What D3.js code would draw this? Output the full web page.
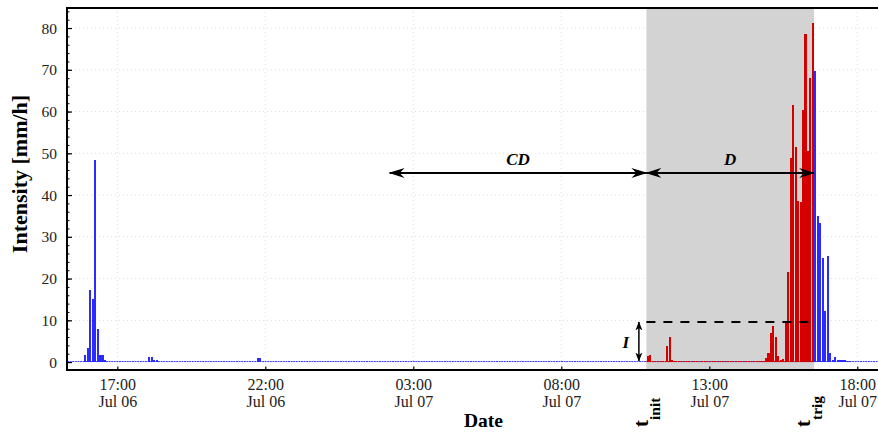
<!DOCTYPE html>
<html>
<head>
<meta charset="utf-8">
<script src="https://cdn.jsdelivr.net/npm/d3@7"></script>
<style>
  body { margin: 0; background: #fff; overflow: hidden; }
  svg { display: block; }
  text { font-family: "Liberation Serif", "Times New Roman", serif; }
</style>
</head>
<body>
<svg id="chart" width="878" height="434"></svg>
<script>
// 5-minute rainfall intensity [mm/h], bars outside the triggering window
const outsideTimes = [
  "2021-07-06 15:55", "2021-07-06 16:00", "2021-07-06 16:05", "2021-07-06 16:10",
  "2021-07-06 16:15", "2021-07-06 16:20", "2021-07-06 16:25", "2021-07-06 16:30",
  "2021-07-06 16:35",
  "2021-07-06 18:05", "2021-07-06 18:10", "2021-07-06 18:15", "2021-07-06 18:20",
  "2021-07-06 21:45", "2021-07-06 21:50",
  "2021-07-07 16:35", "2021-07-07 16:40", "2021-07-07 16:45", "2021-07-07 16:50",
  "2021-07-07 16:55", "2021-07-07 17:00", "2021-07-07 17:05", "2021-07-07 17:10",
  "2021-07-07 17:15", "2021-07-07 17:20", "2021-07-07 17:25", "2021-07-07 17:30",
  "2021-07-07 17:35", "2021-07-07 17:40", "2021-07-07 17:45"
];
const outsideValues = [
  1.7, 3.4, 17.2, 15.1,
  48.4, 7.9, 1.7, 1.7,
  0.5,
  1.3, 1.3, 0.6, 0.6,
  1.0, 1.0,
  69.7, 35.0, 33.4, 24.9,
  12.2, 25.4, 2.2, 0.5,
  1.2, 0.5, 0.5, 0.5,
  0.5, 0.3, 0.3
];

// bars inside the window from t_init to t_trig
const windowTimes = [
  "2021-07-07 10:55", "2021-07-07 11:00",
  "2021-07-07 11:35", "2021-07-07 11:40", "2021-07-07 11:45", "2021-07-07 11:50",
  "2021-07-07 14:45", "2021-07-07 14:50", "2021-07-07 14:55", "2021-07-07 15:00",
  "2021-07-07 15:05", "2021-07-07 15:10", "2021-07-07 15:15", "2021-07-07 15:20",
  "2021-07-07 15:25", "2021-07-07 15:30", "2021-07-07 15:35", "2021-07-07 15:40",
  "2021-07-07 15:45", "2021-07-07 15:50", "2021-07-07 15:55", "2021-07-07 16:00",
  "2021-07-07 16:05", "2021-07-07 16:10", "2021-07-07 16:15", "2021-07-07 16:20",
  "2021-07-07 16:25", "2021-07-07 16:30"
];
const windowValues = [
  1.4, 1.7,
  3.8, 6.0, 0.5, 0.3,
  0.2, 0.3, 1.0, 2.2,
  6.9, 8.6, 6.0, 1.4,
  0.5, 0.7, 9.3, 21.5,
  48.9, 61.6, 51.5, 38.6,
  38.3, 60.4, 78.6, 50.5,
  68.0, 81.2
];

const xTickTimes = [
  "2021-07-06 17:00", "2021-07-06 22:00", "2021-07-07 03:00",
  "2021-07-07 08:00", "2021-07-07 13:00", "2021-07-07 18:00"
];
const yTickValues = [0, 10, 20, 30, 40, 50, 60, 70, 80];
const xExtentTimes = ["2021-07-06 15:18", "2021-07-07 18:42"];
const yExtent = [-1.9, 84.8];

const tInit = "2021-07-07 10:55";
const tTrig = "2021-07-07 16:30";
const cdStart = "2021-07-07 02:12";
const thresholdI = 9.6;
const arrowLevel = 45.3;
const binMinutes = 5;

// ---- layout ----
const parse = d3.timeParse("%Y-%m-%d %H:%M");
const L = 67, R = 878, T = 8, B = 370;
const svg = d3.select("#chart");

const x = d3.scaleTime().domain(xExtentTimes.map(parse)).range([L, R]);
const y = d3.scaleLinear().domain(yExtent).range([B, T]);

const halfBin = binMinutes / 2 * 60000;
const shadeStart = new Date(+parse(tInit) - halfBin);
const shadeEnd = new Date(+parse(tTrig) + halfBin);
const binPx = x(new Date(+parse(tInit) + binMinutes * 60000)) - x(parse(tInit));
const barW = binPx * 0.85;

const defs = svg.append("defs");
defs.append("clipPath").attr("id", "plotClip")
  .append("rect").attr("x", L).attr("y", T).attr("width", 900 - L).attr("height", B - T);
defs.append("marker").attr("id", "bigHead")
  .attr("viewBox", "0 -6 16 12").attr("refX", 15).attr("refY", 0)
  .attr("markerUnits", "userSpaceOnUse").attr("markerWidth", 16).attr("markerHeight", 12)
  .attr("orient", "auto-start-reverse")
  .append("path").attr("d", "M0,-5 L16,0 L0,5 L5,0 Z").attr("fill", "#000");
defs.append("marker").attr("id", "smallHead")
  .attr("viewBox", "0 -4 9 8").attr("refX", 8.5).attr("refY", 0)
  .attr("markerUnits", "userSpaceOnUse").attr("markerWidth", 9).attr("markerHeight", 8)
  .attr("orient", "auto-start-reverse")
  .append("path").attr("d", "M0,-3.5 L9,0 L0,3.5 L2.5,0 Z").attr("fill", "#000");

const plot = svg.append("g").attr("clip-path", "url(#plotClip)");

// dotted grid
plot.append("g").selectAll("line").data(yTickValues.slice(1)).join("line")
  .attr("x1", L).attr("x2", 900).attr("y1", d => y(d)).attr("y2", d => y(d))
  .attr("stroke", "#dcdcdc").attr("stroke-width", 1).attr("stroke-dasharray", "1,3");
plot.append("g").selectAll("line").data(xTickTimes).join("line")
  .attr("x1", d => x(parse(d))).attr("x2", d => x(parse(d)))
  .attr("y1", T).attr("y2", B)
  .attr("stroke", "#dcdcdc").attr("stroke-width", 1).attr("stroke-dasharray", "1,3");

// triggering window
plot.append("rect")
  .attr("x", x(shadeStart)).attr("y", T)
  .attr("width", x(shadeEnd) - x(shadeStart)).attr("height", B - T)
  .attr("fill", "#d3d3d3");

// zero-intensity baseline
plot.append("line")
  .attr("x1", L).attr("x2", 900).attr("y1", y(0) - 0.5).attr("y2", y(0) - 0.5)
  .attr("stroke", "#3a3aff").attr("stroke-width", 1).attr("stroke-dasharray", "2,0.6");
plot.append("line")
  .attr("x1", x(shadeStart)).attr("x2", x(shadeEnd)).attr("y1", y(0) - 0.5).attr("y2", y(0) - 0.5)
  .attr("stroke", "#d00000").attr("stroke-width", 1).attr("stroke-dasharray", "2,0.6");

// bars
function drawBars(times, values, color) {
  const data = times.map((t, i) => ({ t: parse(t), v: values[i] }));
  plot.append("g").attr("shape-rendering", "crispEdges")
    .selectAll("rect").data(data).join("rect")
    .attr("x", d => x(d.t) - barW / 2)
    .attr("width", barW)
    .attr("y", d => y(d.v))
    .attr("height", d => y(0) - y(d.v))
    .attr("fill", color);
}
drawBars(outsideTimes, outsideValues, "#2b2bff");
drawBars(windowTimes, windowValues, "#d40000");

// intensity threshold I
plot.append("line")
  .attr("x1", x(shadeStart)).attr("x2", x(shadeEnd))
  .attr("y1", y(thresholdI)).attr("y2", y(thresholdI))
  .attr("stroke", "#000").attr("stroke-width", 2).attr("stroke-dasharray", "9,8");

// frame
svg.append("rect")
  .attr("x", L).attr("y", T).attr("width", 900 - L).attr("height", B - T)
  .attr("fill", "none").attr("stroke", "#000").attr("stroke-width", 2);

// y axis: major and minor inward ticks
const yMinor = d3.range(0, 85, 2);
svg.append("g").attr("transform", `translate(${L},0)`)
  .call(d3.axisLeft(y).tickValues(yMinor).tickSize(-2.5).tickFormat(""))
  .call(g => g.select(".domain").remove())
  .call(g => g.selectAll("line").attr("stroke", "#000"));
const yAxis = svg.append("g").attr("transform", `translate(${L},0)`)
  .call(d3.axisLeft(y).tickValues(yTickValues).tickSize(-5).tickPadding(10));
yAxis.select(".domain").remove();
yAxis.selectAll("line").attr("stroke", "#000").attr("stroke-width", 1.2);
yAxis.selectAll("text").attr("font-size", 15.5).attr("fill", "#222")
  .attr("font-family", "Liberation Serif, serif");

// x axis
const xAxis = svg.append("g").attr("transform", `translate(0,${B})`)
  .call(d3.axisBottom(x).tickValues(xTickTimes.map(parse)).tickSize(-3.5).tickPadding(0));
xAxis.select(".domain").remove();
xAxis.selectAll("line").attr("stroke", "#000").attr("stroke-width", 1.2);
const fTime = d3.timeFormat("%H:%M"), fDay = d3.timeFormat("%b %d");
xAxis.selectAll("text").each(function (d) {
  const t = d3.select(this).text(null).attr("dy", null).attr("y", null)
    .attr("font-size", 16).attr("fill", "#222").attr("font-family", "Liberation Serif, serif");
  t.append("tspan").attr("x", 0).attr("y", 20).text(fTime(d));
  t.append("tspan").attr("x", 0).attr("y", 37).text(fDay(d));
});

// axis titles
svg.append("text")
  .attr("transform", `translate(27,174) rotate(-90)`)
  .attr("text-anchor", "middle").attr("font-weight", "bold").attr("font-size", 22)
  .text("Intensity [mm/h]");
svg.append("text")
  .attr("x", 483.5).attr("y", 427)
  .attr("text-anchor", "middle").attr("font-weight", "bold").attr("font-size", 19.5)
  .text("Date");

// CD and D arrows
const ay = y(arrowLevel);
svg.append("line")
  .attr("x1", x(parse(cdStart))).attr("x2", x(shadeStart))
  .attr("y1", ay).attr("y2", ay)
  .attr("stroke", "#000").attr("stroke-width", 2)
  .attr("marker-start", "url(#bigHead)").attr("marker-end", "url(#bigHead)");
svg.append("line")
  .attr("x1", x(shadeStart)).attr("x2", x(shadeEnd))
  .attr("y1", ay).attr("y2", ay)
  .attr("stroke", "#000").attr("stroke-width", 2)
  .attr("marker-start", "url(#bigHead)").attr("marker-end", "url(#bigHead)");
svg.append("text")
  .attr("x", (x(parse(cdStart)) + x(shadeStart)) / 2).attr("y", ay - 8)
  .attr("text-anchor", "middle").attr("font-weight", "bold").attr("font-style", "italic")
  .attr("font-size", 17).text("CD");
svg.append("text")
  .attr("x", (x(shadeStart) + x(shadeEnd)) / 2).attr("y", ay - 8)
  .attr("text-anchor", "middle").attr("font-weight", "bold").attr("font-style", "italic")
  .attr("font-size", 17).text("D");

// I arrow
const ix = x(shadeStart) - 7.5;
svg.append("line")
  .attr("x1", ix).attr("x2", ix).attr("y1", y(thresholdI)).attr("y2", y(0) - 1)
  .attr("stroke", "#000").attr("stroke-width", 1.5)
  .attr("marker-start", "url(#smallHead)").attr("marker-end", "url(#smallHead)");
svg.append("text")
  .attr("x", ix - 13).attr("y", (y(thresholdI) + y(0)) / 2 + 6)
  .attr("text-anchor", "middle").attr("font-weight", "bold").attr("font-style", "italic")
  .attr("font-size", 17).text("I");

// t_init and t_trig labels
function timeLabel(px, sub) {
  const t = svg.append("text")
    .attr("transform", `translate(${px},427) rotate(-90)`)
    .attr("font-weight", "bold");
  t.append("tspan").attr("font-size", 21).text("t");
  t.append("tspan").attr("font-size", 15.5).attr("dy", 12).text(sub);
}
timeLabel(x(shadeStart) + 2, "init");
timeLabel(x(shadeEnd) - 4, "trig");
</script>
</body>
</html>
